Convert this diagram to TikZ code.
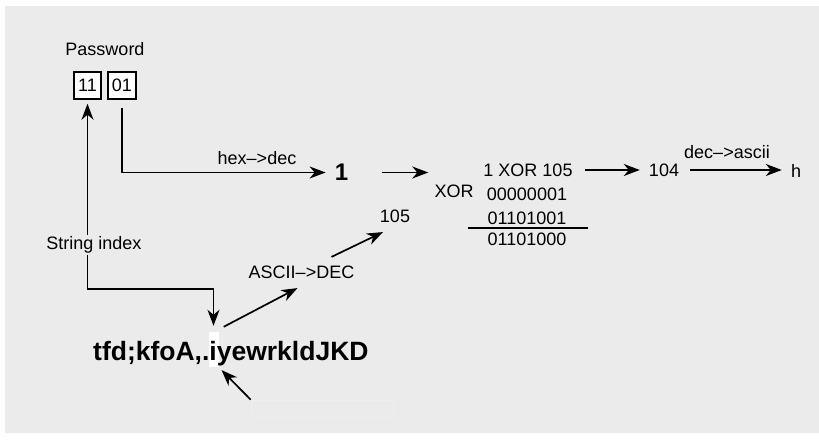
\documentclass[tikz,border=0pt]{standalone}
\usepackage{fontspec}
\setmainfont{Liberation Sans}
\usetikzlibrary{arrows.meta,positioning}
\definecolor{bggray}{HTML}{EBEBEB}
\tikzset{
  lbl/.style={inner sep=0pt,font=\fontsize{18}{21}\selectfont},
  pwbox/.style={draw,line width=1.5pt,fill=white,minimum width=27pt,minimum height=27pt,inner sep=0pt,font=\fontsize{18}{21}\selectfont},
  strtxt/.style={inner sep=0pt,font=\bfseries\fontsize{26.5}{30}\selectfont},
  arr/.style={line width=1.7pt,->}
}

\begin{document}
\begin{tikzpicture}[x=1pt,y=1pt,>={Stealth[length=16pt,width=12pt,inset=5pt]}]
\useasboundingbox (0,0) rectangle (819,439);
\fill[bggray] (5,6) rectangle (819,433);

% password and its two bytes
\node[lbl] (pw) at (105,390) {Password};
\node[pwbox] (p1) at (87.5,353.5) {11};
\node[pwbox,minimum width=28pt] (p2) at (122,353.5) {01};

% key string, picked character on white
\node[fill=white,minimum width=10pt,minimum height=35pt,inner sep=0pt] (chr) at (213.5,89.5) {};
\node[strtxt,anchor=base west] (keystr) at (93,78) {tfd;kfoA,.iyewrkldJKD};
\node[draw=white!15!bggray,line width=0.6pt,minimum width=142pt,minimum height=17pt,inner sep=0pt] (src) at (322,30.5) {};

% values
\node[font=\bfseries\fontsize{24}{28}\selectfont,inner sep=0pt] (one) at (341.5,266.5) {1};
\node[lbl] (n105) at (395,222.5) {105};
\node[lbl] (xorl) at (454,248) {XOR};
\node[lbl] (calc) at (528,269) {1 XOR 105};
\node[lbl] (bina) at (527,244.5) {00000001};
\node[lbl] (binb) at (527,220.5) {01101001};
\node[lbl] (binc) at (527,199.5) {01101000};
\draw[line width=1.5pt] (468,211) -- (588,211);
\node[lbl] (r104) at (664,269) {104};
\node[lbl] (h) at (796,268) {h};

% labels on the arrows
\node[lbl] (hexlbl) at (257,281) {hex–>dec};
\node[lbl] (declbl) at (727,286.5) {dec–>ascii};
\node[lbl] (asc) at (301.5,166.5) {ASCII–>DEC};

% connectors
\coordinate (turn) at (87.5,150);
\draw[arr,<->,shorten <=4pt,shorten >=6pt] (p1.south) -- (turn) -| (chr.north);
\node[lbl,fill=bggray,inner sep=2pt] (idx) at (94,194) {String index};
\draw[arr,shorten <=8pt,shorten >=9pt] (p2.south) |- (one.west);
\draw[arr,shorten <=34pt,shorten >=6pt] (one.east) -- (one.east -| xorl.west);
\draw[arr,shorten <=12pt,shorten >=9pt] (calc.east) -- (calc.east -| r104.west);
\draw[arr,shorten <=11pt,shorten >=9pt] (r104.east) -- (r104.east -| h.west);
\draw[arr] ([shift={(5,5)}]chr.north east) -- ([shift={(-4,-9)}]asc.south);
\draw[arr] ([shift={(-23,9)}]asc.north east) -- ([shift={(-12,-9)}]n105.south);
\draw[arr,shorten >=4pt] (src.north west) -- (chr.south east);
\end{tikzpicture}
\end{document}
